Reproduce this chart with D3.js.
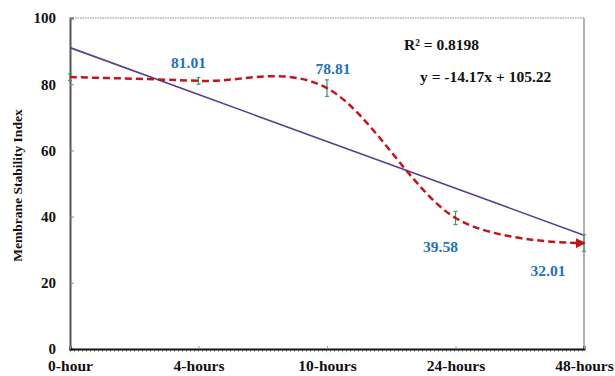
<!DOCTYPE html>
<html>
<head>
<meta charset="utf-8">
<script src="https://cdn.jsdelivr.net/npm/d3@7"></script>
<style>
  body { margin: 0; background: #fff; }
  svg text { font-family: "Liberation Serif", "Times New Roman", serif; font-weight: bold; }
</style>
</head>
<body>
<div class="chart"></div>
<script>
const categories = ["0-hour", "4-hours", "10-hours", "24-hours", "48-hours"];
const msiValues = [82.14, 81.01, 78.81, 39.58, 32.01];
const errValues = [1, 1, 2.5, 2, 2.5];
const pointLabels = ["", "81.01", "78.81", "39.58", "32.01"];
const yTicks = [0, 20, 40, 60, 80, 100];
const trendSlope = -14.17;
const trendIntercept = 105.22;
const rSquared = "R\u00b2 = 0.8198";
const trendText = "y = -14.17x + 105.22";

const width = 615;
const height = 376;
const margin = { top: 18, right: 31, bottom: 27, left: 70 };

const svg = d3.select(".chart")
  .append("svg")
  .attr("width", width)
  .attr("height", height);

const x = d3.scalePoint()
  .domain(categories)
  .range([margin.left, width - margin.right]);

const y = d3.scaleLinear()
  .domain([0, 100])
  .range([height - margin.bottom, margin.top]);

// plot frame: dotted top, grey right
svg.append("line")
  .attr("x1", margin.left).attr("x2", width - margin.right)
  .attr("y1", y(100)).attr("y2", y(100))
  .attr("stroke", "#888").attr("stroke-width", 1.2)
  .attr("stroke-dasharray", "1.5,1");
svg.append("line")
  .attr("x1", width - margin.right).attr("x2", width - margin.right)
  .attr("y1", y(100)).attr("y2", y(0))
  .attr("stroke", "#999").attr("stroke-width", 1.5);

// minor dotted ticks under x axis
svg.append("line")
  .attr("x1", margin.left).attr("x2", width - margin.right)
  .attr("y1", y(0) + 2).attr("y2", y(0) + 2)
  .attr("stroke", "#aaa").attr("stroke-width", 2)
  .attr("stroke-dasharray", "1,3");

// y axis
const yAxis = svg.append("g")
  .attr("transform", `translate(${margin.left},0)`)
  .call(d3.axisLeft(y).tickValues(yTicks).tickSize(-4).tickPadding(14));
yAxis.select(".domain").attr("stroke", "#555").attr("stroke-width", 2);
yAxis.selectAll(".tick line").attr("stroke", "#888");
yAxis.selectAll("text")
  .attr("font-size", 15)
  .attr("fill", "#111")
  .style("font-family", "Liberation Serif, serif")
  .style("font-weight", "bold");

// x axis
const xAxis = svg.append("g")
  .attr("transform", `translate(0,${y(0)})`)
  .call(d3.axisBottom(x).tickSize(-3).tickPadding(11));
xAxis.select(".domain").attr("stroke", "#111").attr("stroke-width", 2);
xAxis.selectAll(".tick line").attr("stroke", "#999");
xAxis.selectAll("text")
  .attr("font-size", 15.5)
  .attr("fill", "#111")
  .style("font-family", "Liberation Serif, serif")
  .style("font-weight", "bold");

// y axis title
svg.append("text")
  .attr("transform", `translate(22,${(y(0) + y(100)) / 2 + 2}) rotate(-90)`)
  .attr("text-anchor", "middle")
  .attr("font-size", 13.5)
  .attr("fill", "#111")
  .text("Membrane Stability Index");

// linear trend line
const trendData = categories.map((c, i) => ({ c, v: trendIntercept + trendSlope * (i + 1) }));
svg.append("path")
  .datum(trendData)
  .attr("d", d3.line().x(d => x(d.c)).y(d => y(d.v)))
  .attr("fill", "none")
  .attr("stroke", "#5b3f8c")
  .attr("stroke-width", 1.6);

// error bars
const errG = svg.append("g").attr("stroke", "#3a9a6a").attr("stroke-width", 1.2);
categories.forEach((c, i) => {
  const cx = x(c), lo = y(msiValues[i] - errValues[i]), hi = y(msiValues[i] + errValues[i]);
  errG.append("line").attr("x1", cx).attr("x2", cx).attr("y1", lo).attr("y2", hi);
  errG.append("line").attr("x1", cx - 2).attr("x2", cx + 2).attr("y1", lo).attr("y2", lo);
  errG.append("line").attr("x1", cx - 2).attr("x2", cx + 2).attr("y1", hi).attr("y2", hi);
});

// arrow marker
svg.append("defs").append("marker")
  .attr("id", "arrow")
  .attr("viewBox", "0 0 10 10")
  .attr("refX", 8).attr("refY", 5)
  .attr("markerWidth", 4).attr("markerHeight", 4)
  .attr("orient", "auto")
  .append("path")
  .attr("d", "M0,0 L10,5 L0,10 Z")
  .attr("fill", "#c4141b");

// smoothed dashed data line
const series = categories.map((c, i) => ({ c, v: msiValues[i] }));
svg.append("path")
  .datum(series)
  .attr("d", d3.line().x(d => x(d.c)).y(d => y(d.v)).curve(d3.curveCatmullRom.alpha(0)))
  .attr("fill", "none")
  .attr("stroke", "#c4141b")
  .attr("stroke-width", 2.5)
  .attr("stroke-dasharray", "7,4")
  .attr("marker-end", "url(#arrow)");

// value labels
const labelOffsets = [[0, 0], [-10, -13], [6, -14], [-15, 34], [-36, 33]];
svg.append("g")
  .selectAll("text")
  .data(series)
  .join("text")
  .attr("x", (d, i) => x(d.c) + labelOffsets[i][0])
  .attr("y", (d, i) => y(d.v) + labelOffsets[i][1])
  .attr("text-anchor", "middle")
  .attr("font-size", 15.5)
  .attr("fill", "#1f72b8")
  .text((d, i) => pointLabels[i]);

// trend annotations
svg.append("text")
  .attr("x", 404).attr("y", 50)
  .attr("font-size", 15.5)
  .attr("fill", "#111")
  .text(rSquared);
svg.append("text")
  .attr("x", 420).attr("y", 82)
  .attr("font-size", 15.5)
  .attr("fill", "#111")
  .text(trendText);
</script>
</body>
</html>
